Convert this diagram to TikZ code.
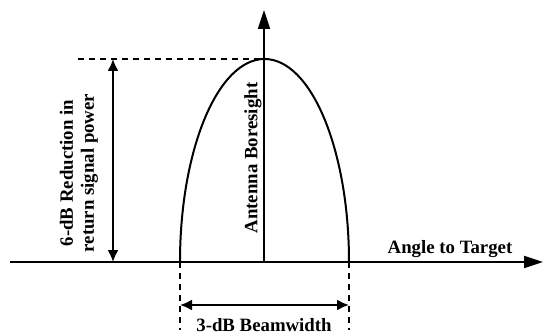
\documentclass[tikz,border=0pt]{standalone}
\usepackage{fontspec}
\setmainfont{Liberation Serif}
\usetikzlibrary{arrows.meta}
\usetikzlibrary{positioning}

\begin{document}
\begin{tikzpicture}[
  x=1pt,y=1pt,
  every node/.style={font=\fontsize{18.8}{21}\selectfont\bfseries},
  axis/.style={line width=2pt,-{Triangle[length=19pt,width=12pt]}},
  span/.style={line width=2pt,{Latex[length=12pt,width=11pt]}-{Latex[length=12pt,width=11pt]}},
  guide/.style={line width=1.5pt,dash pattern=on 6pt off 5pt}
]
\useasboundingbox (0,0) rectangle (546,335);
% axes
\coordinate (xs) at (10,73);
\coordinate (xe) at (543,73);
\coordinate (o) at (264,73);
\coordinate (ye) at (264,325);
\draw[axis] (xs) -- (xe);
\draw[axis] (o) -- (ye);
% beam
\coordinate (bl) at (180,73);
\coordinate (br) at (349,73);
\coordinate (peak) at (264,276);
\draw[line width=2pt] (bl) arc[start angle=180,end angle=0,x radius=84.5pt,y radius=203pt];
% guides
\coordinate (top) at (78,276);
\coordinate (bld) at (180,5);
\coordinate (brd) at (349,5);
\draw[guide] (top) -- (peak);
\draw[guide] (bl) -- (bld);
\draw[guide] (br) -- (brd);
% spans
\coordinate (ra) at (113,276);
\coordinate (rb) at (113,73);
\draw[span] (ra) -- (rb);
\coordinate (wa) at (180,30);
\coordinate (wb) at (349,30);
\draw[span] (wa) -- (wb);
% labels
\node[rotate=90,align=center] (red) at (79,162) {6-dB Reduction in\\return signal power};
\node[rotate=90] (bore) at (253,177) {Antenna Boresight};
\node (angle) at (450,86) {Angle to Target};
\node (beam) at (264,10) {3-dB Beamwidth};
\end{tikzpicture}
\end{document}
